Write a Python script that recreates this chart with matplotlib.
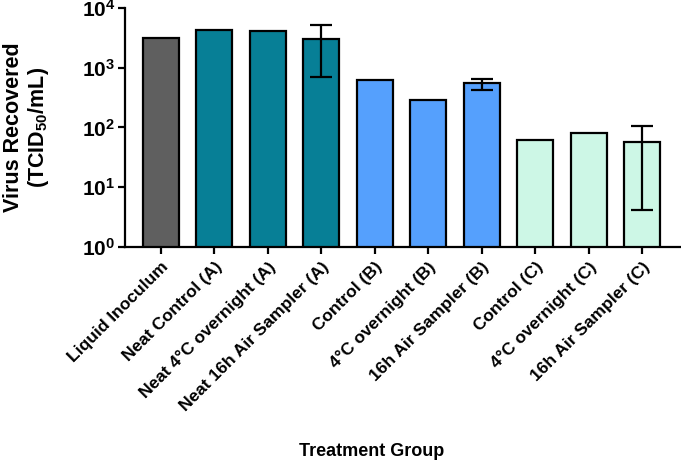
import matplotlib
matplotlib.use("Agg")
import matplotlib.pyplot as plt
import numpy as np

plt.rcParams['font.family'] = ['Liberation Sans', 'DejaVu Sans']
plt.rcParams['font.weight'] = 'bold'
plt.rcParams['mathtext.default'] = 'bf'
plt.rcParams['mathtext.fontset'] = 'custom'
plt.rcParams['mathtext.bf'] = 'Liberation Sans:bold'
plt.rcParams['mathtext.rm'] = 'Liberation Sans:bold'

groups = ["Liquid Inoculum", "Neat Control (A)", "Neat 4\u00b0C overnight (A)",
          "Neat 16h Air Sampler (A)", "Control (B)", "4\u00b0C overnight (B)",
          "16h Air Sampler (B)", "Control (C)", "4\u00b0C overnight (C)",
          "16h Air Sampler (C)"]
values = [3140, 4220, 4100, 3020, 612, 287, 546, 61, 82, 57]
colors = ["#5f5f5f", "#077f96", "#077f96", "#077f96", "#55a0fd", "#55a0fd",
          "#55a0fd", "#cdf7e6", "#cdf7e6", "#cdf7e6"]

# bars that have error bars: index, lower end, upper end
err_idx = [3, 6, 9]
err_low = [695, 422, 4.1]
err_high = [5250, 643, 107]

fig = plt.figure(figsize=(6.81, 4.62), dpi=100)
ax = fig.add_axes([0.1836, 0.4654, 0.83, 0.5173])

x = np.arange(len(groups))
ax.bar(x, values, width=0.67, color=colors, edgecolor='black', linewidth=1.6, zorder=2)

ev = np.array([values[i] for i in err_idx])
yerr = [ev - np.array(err_low), np.array(err_high) - ev]
ax.errorbar(err_idx, ev, yerr=yerr, fmt='none', ecolor='black', elinewidth=1.6,
            capsize=8, capthick=1.6, zorder=3)

ax.set_yscale('log')
ax.set_ylim(1, 1e4)
ax.set_xlim(-0.67, 9.9)
ax.set_yticks([1, 10, 100, 1000, 10000])
ax.set_yticklabels([r'$\mathbf{10^{%d}}$' % k for k in range(5)])
ax.yaxis.set_minor_locator(matplotlib.ticker.NullLocator())
ax.set_xticks(x)
ax.set_xticklabels(groups, rotation=45, ha='right', rotation_mode='anchor',
                   fontsize=12.5, fontweight='bold')

for s in ['top', 'right']:
    ax.spines[s].set_visible(False)
for s in ['left', 'bottom']:
    ax.spines[s].set_linewidth(1.6)
ax.tick_params(axis='both', width=1.6, length=5)
ax.tick_params(axis='y', labelsize=15, pad=2)
ax.tick_params(axis='x', pad=4)

ax.set_ylabel("Virus Recovered\n(TCID$_{50}$/mL)", fontsize=15.5, fontweight='bold',
              linespacing=1.1)
ax.yaxis.set_label_coords(-0.131, 0.5)
ax.set_xlabel("Treatment Group", fontsize=13, fontweight='bold')
ax.xaxis.set_label_coords((372 - 125) / (0.83 * 681), -(443 - 247) / (0.5173 * 462))

fig.savefig("out.png", dpi=100)
